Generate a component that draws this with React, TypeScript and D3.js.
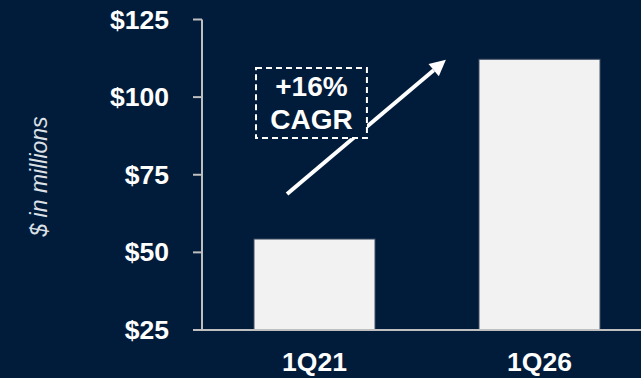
import React from "react";
import * as d3 from "d3";

const categories = ["1Q21", "1Q26"];
const values = [54.3, 112.2];
const yTicks = [25, 50, 75, 100, 125];
const yTickLabels = ["$25", "$50", "$75", "$100", "$125"];
const yTitle = "$ in millions";
const cagrLines = ["+16%", "CAGR"];
// annotation anchors: t = fraction between category centres, v = value
const arrowFrom = { t: -0.122, v: 68.8 };
const arrowTo = { t: 0.584, v: 112 };
const boxFrom = { t: -0.26, v: 109.4 };
const boxTo = { t: 0.233, v: 86.8 };

const W = 641;
const H = 378;
const BG = "#011b3a";
const FONT = "'Liberation Sans', Arial, sans-serif";

export default function App() {
  const y = d3.scaleLinear().domain([25, 125]).range([330, 19.5]);
  const x = d3
    .scaleBand<string>()
    .domain(categories)
    .range([202, 652])
    .paddingInner(0.462)
    .paddingOuter(0.231);
  const bw = x.bandwidth();
  const c0 = (x(categories[0]) as number) + bw / 2;
  const c1 = (x(categories[1]) as number) + bw / 2;
  const tx = (t: number) => c0 + t * (c1 - c0);

  const ax0 = tx(arrowFrom.t), ay0 = y(arrowFrom.v);
  const ax1 = tx(arrowTo.t), ay1 = y(arrowTo.v);
  const ang = Math.atan2(ay1 - ay0, ax1 - ax0);
  const headLen = 16, headW = 8;
  const bx = ax1 - headLen * Math.cos(ang), by = ay1 - headLen * Math.sin(ang);
  const px = -Math.sin(ang), py = Math.cos(ang);
  const head = `M${ax1},${ay1} L${bx + px * headW},${by + py * headW} L${bx - px * headW},${by - py * headW} Z`;

  const bxl = tx(boxFrom.t), bxr = tx(boxTo.t);
  const byt = y(boxFrom.v), byb = y(boxTo.v);
  const bcx = (bxl + bxr) / 2;

  return (
    <svg
      width={W}
      height={H}
      style={{ position: "absolute", left: 0, top: 0, display: "block" }}
      fontFamily={FONT}
    >
      <rect x={0} y={0} width={W} height={H} fill={BG} />
      {/* bars */}
      {categories.map((c, i) => (
        <rect
          key={c}
          x={x(c)}
          y={y(values[i])}
          width={bw}
          height={y(25) - y(values[i])}
          fill="#f2f2f2"
          stroke="#3b4a5e"
          strokeWidth={1}
        />
      ))}
      {/* y axis */}
      <line x1={202} x2={202} y1={y(125)} y2={y(25)} stroke="#bfbfbf" strokeWidth={2} />
      {yTicks.map((t, i) => (
        <g key={t}>
          <line x1={193} x2={202} y1={y(t)} y2={y(t)} stroke="#bfbfbf" strokeWidth={2} />
          <text
            x={169}
            y={y(t)}
            textAnchor="end"
            dominantBaseline="central"
            fill="#ffffff"
            fontWeight="bold"
            fontSize={26.5}
          >
            {yTickLabels[i]}
          </text>
        </g>
      ))}
      {/* baseline */}
      <line x1={193} x2={W} y1={y(25)} y2={y(25)} stroke="#bfbfbf" strokeWidth={2} />
      {/* x labels */}
      {categories.map((c) => (
        <text
          key={c}
          x={(x(c) as number) + bw / 2}
          y={362}
          textAnchor="middle"
          dominantBaseline="central"
          fill="#ffffff"
          fontWeight="bold"
          fontSize={26.5}
        >
          {c}
        </text>
      ))}
      {/* y title */}
      <text
        transform={`translate(39,${176.5}) rotate(-90)`}
        textAnchor="middle"
        dominantBaseline="central"
        fill="#dde1e7"
        fontStyle="italic"
        fontSize={23}
      >
        {yTitle}
      </text>
      {/* arrow */}
      <line x1={ax0} y1={ay0} x2={bx} y2={by} stroke="#ffffff" strokeWidth={4} />
      <path d={head} fill="#ffffff" />
      {/* CAGR box */}
      <rect
        x={bxl}
        y={byt}
        width={bxr - bxl}
        height={byb - byt}
        fill={BG}
        stroke="#ffffff"
        strokeWidth={2}
        strokeDasharray="6,4"
      />
      {cagrLines.map((l, i) => (
        <text
          key={l}
          x={bcx}
          y={byt + 19 + i * 33}
          textAnchor="middle"
          dominantBaseline="central"
          fill="#ffffff"
          fontWeight="bold"
          fontSize={28}
        >
          {l}
        </text>
      ))}
    </svg>
  );
}
